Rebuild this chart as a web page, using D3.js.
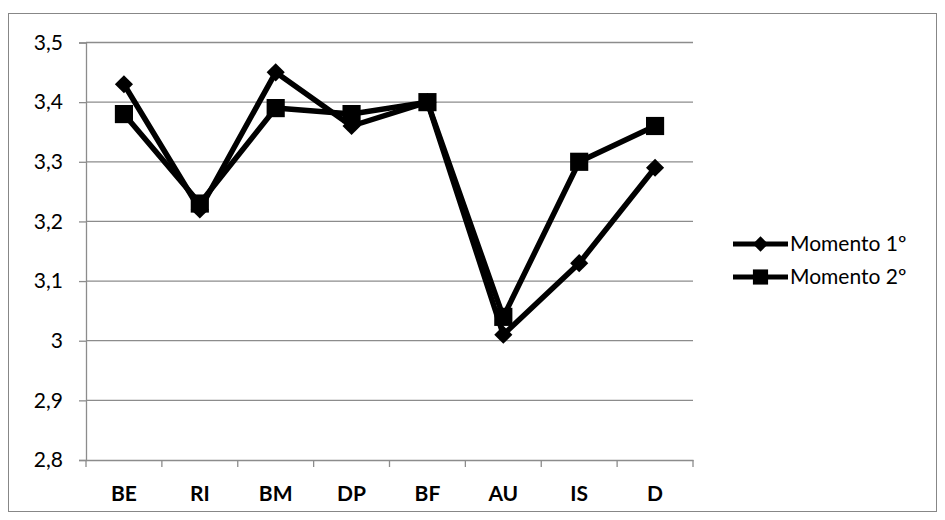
<!DOCTYPE html>
<html>
<head>
<meta charset="utf-8">
<script src="https://cdn.jsdelivr.net/npm/d3@7"></script>
<style>
  body { margin: 0; background: #fff; }
  text { font-family: Lato, "Open Sans", sans-serif; }
</style>
</head>
<body>
<div id="viz-container"></div>
<script>
// data
let categories = ["BE", "RI", "BM", "DP", "BF", "AU", "IS", "D"];
let momento1 = [3.43, 3.22, 3.45, 3.36, 3.40, 3.01, 3.13, 3.29];
let momento2 = [3.38, 3.23, 3.39, 3.38, 3.40, 3.04, 3.30, 3.36];
let seriesNames = ["Momento 1º", "Momento 2º"];
let yTicks = [2.8, 2.9, 3.0, 3.1, 3.2, 3.3, 3.4, 3.5];

let viz = d3.select("#viz-container")
  .append("svg")
    .attr("width", 945)
    .attr("height", 520);

// chart border
viz.append("rect")
  .attr("x", 8.5).attr("y", 13.5)
  .attr("width", 928).attr("height", 498)
  .attr("fill", "none")
  .attr("stroke", "#878787")
  .attr("stroke-width", 1);

let plotLeft = 86, plotRight = 693, plotTop = 42.5, plotBottom = 460;

let x = d3.scaleBand().domain(categories).range([plotLeft, plotRight]);
let y = d3.scaleLinear().domain([2.8, 3.5]).range([plotBottom, plotTop]);

// gridlines
viz.selectAll(".grid").data(yTicks.slice(1)).enter().append("line")
  .attr("class", "grid")
  .attr("x1", plotLeft).attr("x2", plotRight)
  .attr("y1", d => y(d)).attr("y2", d => y(d))
  .attr("stroke", "#8c8c8c")
  .attr("stroke-width", 1.3);

// y axis
let yAxis = viz.append("g")
  .attr("transform", "translate(" + plotLeft + ",0)")
  .call(d3.axisLeft(y).tickValues(yTicks).tickSize(7).tickPadding(16)
    .tickFormat(d => d3.format(".1f")(d).replace(".", ",").replace(",0", "")));
yAxis.select(".domain").attr("stroke", "#8c8c8c").attr("stroke-width", 1.3);
yAxis.selectAll(".tick line").attr("stroke", "#8c8c8c").attr("stroke-width", 1.3);
yAxis.selectAll("text").attr("font-size", 21).attr("fill", "#000");

// x axis
let xAxis = viz.append("g")
  .attr("transform", "translate(0," + plotBottom + ")")
  .call(d3.axisBottom(x).tickSize(0).tickPadding(26));
xAxis.select(".domain").attr("stroke", "#8c8c8c").attr("stroke-width", 1.3);
xAxis.selectAll("text").attr("font-size", 21).attr("font-weight", "bold").attr("fill", "#000");

// x ticks at band edges
let edges = categories.map(c => x(c)).concat([plotRight]);
viz.selectAll(".xtick").data(edges).enter().append("line")
  .attr("class", "xtick")
  .attr("x1", d => d).attr("x2", d => d)
  .attr("y1", plotBottom).attr("y2", plotBottom + 7)
  .attr("stroke", "#8c8c8c")
  .attr("stroke-width", 1.3);

function getX(d, i) {
  return x(categories[i]) + x.bandwidth() / 2;
}

let line = d3.line().x(getX).y(d => y(d));

viz.append("path").datum(momento1)
  .attr("d", line).attr("fill", "none")
  .attr("stroke", "#000").attr("stroke-width", 5.5).attr("stroke-linejoin", "round");
viz.append("path").datum(momento2)
  .attr("d", line).attr("fill", "none")
  .attr("stroke", "#000").attr("stroke-width", 5.5).attr("stroke-linejoin", "round");

let diamond = d3.symbol().type(d3.symbolDiamond2).size(210);
let square = d3.symbol().type(d3.symbolSquare).size(330);

viz.selectAll(".m1").data(momento1).enter().append("path")
  .attr("class", "m1")
  .attr("d", diamond)
  .attr("transform", (d, i) => "translate(" + getX(d, i) + "," + y(d) + ")")
  .attr("fill", "#000");

viz.selectAll(".m2").data(momento2).enter().append("path")
  .attr("class", "m2")
  .attr("d", square)
  .attr("transform", (d, i) => "translate(" + getX(d, i) + "," + y(d) + ")")
  .attr("fill", "#000");

// legend
let legend = viz.selectAll(".legend").data(seriesNames).enter().append("g")
  .attr("class", "legend")
  .attr("transform", (d, i) => "translate(733," + (244 + i * 33) + ")");
legend.append("line")
  .attr("x1", 0).attr("x2", 55)
  .attr("stroke", "#000").attr("stroke-width", 5);
legend.append("path")
  .attr("d", (d, i) => i == 0 ? d3.symbol().type(d3.symbolDiamond2).size(150)() : d3.symbol().type(d3.symbolSquare).size(230)())
  .attr("transform", "translate(27.5,0)")
  .attr("fill", "#000");
legend.append("text")
  .attr("x", 57).attr("y", 7)
  .attr("font-size", 21)
  .text(d => d);
</script>
</body>
</html>
